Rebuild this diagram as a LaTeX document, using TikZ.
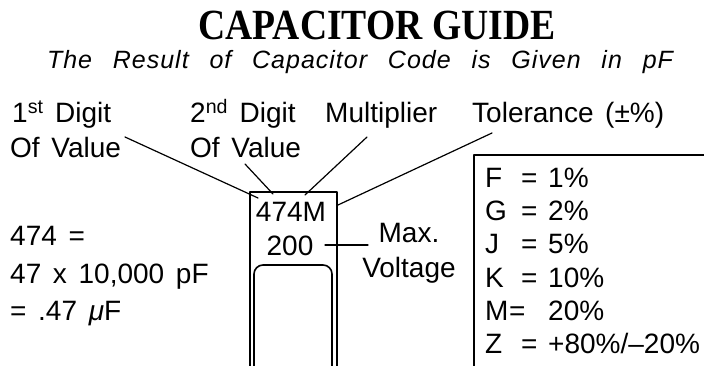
\documentclass[tikz,border=0pt]{standalone}
\usepackage{fontspec}
\setmainfont[WordSpace=1.5]{Liberation Sans}
\newfontfamily\titlefont{Liberation Serif}
\newfontfamily\subfont[LetterSpace=4]{Liberation Sans}
\usetikzlibrary{positioning}

\tikzset{
  lbl/.style={inner sep=0pt, anchor=base west, font=\fontsize{28}{30}\selectfont},
  clbl/.style={lbl, anchor=base},
  lead/.style={line width=1.2pt},
  outline/.style={line width=1.6pt}
}

\begin{document}
\begin{tikzpicture}[x=1pt, y=-1pt, line join=round, line cap=round]
    \useasboundingbox (0,0) rectangle (704,366);
    \clip (0,0) rectangle (704,366);

    \node[inner sep=0pt, anchor=base, xscale=0.875, font=\titlefont\bfseries\fontsize{43}{46}\selectfont] (title) at (377,40) {CAPACITOR GUIDE};
    \node[inner sep=0pt, anchor=base, font=\subfont\itshape\fontsize{25}{28}\selectfont] (sub) at (360,69)
      {\makebox[626pt][s]{The Result of Capacitor Code is Given in pF}};

    \node[lbl] (dig1) at (12,123) {1\textsuperscript{st} Digit};
    \node[lbl] (val1) at (10,158) {Of Value};
    \node[lbl] (dig2) at (190,123) {2\textsuperscript{nd} Digit};
    \node[lbl] (val2) at (190,158) {Of Value};
    \node[lbl] (mult) at (325,123) {Multiplier};
    \node[lbl] (tol) at (472,123) {Tolerance (±\%)};

    \node[lbl] (ex1) at (10,245) {474 =};
    \node[lbl] (ex2) at (10,283) {47 x 10,000 pF};
    \node[lbl] (ex3) at (10,320) {= .47 \textit{μ}F};

    \draw[outline] (250,370) -- (250,192) -- (337,192) -- (337,370);
    \draw[outline, rounded corners=9pt] (254,370) -- (254,265) -- (332,265) -- (332,370);
    \node[clbl] (code) at (291,222) {474M};
    \node[clbl] (volt) at (290,255) {200};
    \node[clbl] (maxa) at (409,243) {Max.};
    \node[clbl] (maxb) at (409,277) {Voltage};

    \draw[outline] (474,370) -- (474,155) -- (710,155);
    \node[lbl] (tf) at (485,188) {\makebox[36pt][l]{F}\makebox[27pt][l]{=}1\%};
    \node[lbl] (tg) at (485,221) {\makebox[36pt][l]{G}\makebox[27pt][l]{=}2\%};
    \node[lbl] (tj) at (485,254) {\makebox[36pt][l]{J}\makebox[27pt][l]{=}5\%};
    \node[lbl] (tk) at (485,287) {\makebox[36pt][l]{K}\makebox[27pt][l]{=}10\%};
    \node[lbl] (tm) at (485,320) {\makebox[24pt][l]{M}\makebox[39pt][l]{=}20\%};
    \node[lbl] (tz) at (485,353) {\makebox[36pt][l]{Z}\makebox[27pt][l]{=}+80\%/–20\%};

    \coordinate (l1a) at (125,137);  \coordinate (l1b) at (258,198);
    \coordinate (l2a) at (245,164);  \coordinate (l2b) at (273,194);
    \coordinate (l3a) at (367,137);  \coordinate (l3b) at (305,195);
    \coordinate (l4a) at (492,133);  \coordinate (l4b) at (338,205);
    \coordinate (l5a) at (325,245);  \coordinate (l5b) at (368,245);
    \draw[lead] (l1a) -- (l1b);
    \draw[lead] (l2a) -- (l2b);
    \draw[lead] (l3a) -- (l3b);
    \draw[lead] (l4a) -- (l4b);
    \draw[lead] (l5a) -- (l5b);
\end{tikzpicture}
\end{document}
